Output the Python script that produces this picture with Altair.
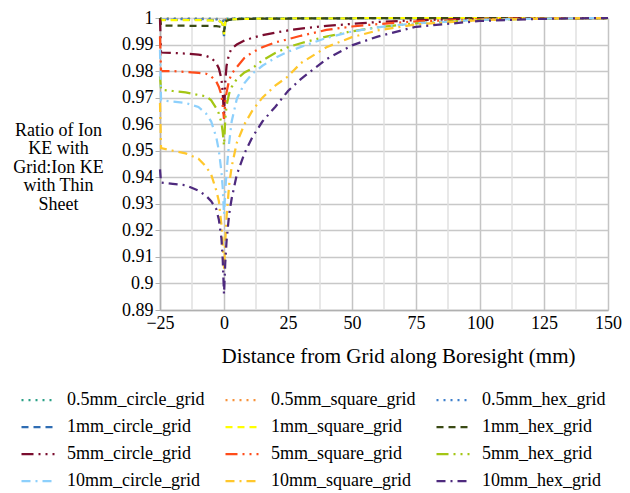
import altair as alt
import pandas as pd

# Shared x positions (mm)
x_mm = [-25, -24.6, -20, -15, -10, -7, -5, -3, -2, -1, -0.5, 0, 0.5, 1, 2, 3, 5, 8, 11, 15,
        20, 25, 30, 40, 50, 60, 75, 100, 125, 150]

names = ["0.5mm_circle_grid", "0.5mm_square_grid", "0.5mm_hex_grid",
         "1mm_circle_grid", "1mm_square_grid", "1mm_hex_grid",
         "5mm_circle_grid", "5mm_square_grid", "5mm_hex_grid",
         "10mm_circle_grid", "10mm_square_grid", "10mm_hex_grid"]

c05_circle = [1.0, 0.9998, 0.9998, 0.9998, 0.9998, 0.9998, 0.9998, 0.9997, 0.9997, 0.9996, 0.9994, 0.9985,
              0.9995, 0.9997, 0.9998, 0.9998, 0.9999, 0.9999, 0.9999, 0.9999, 0.9999, 1.0, 1.0, 1.0, 1.0,
              1.0, 1.0, 1.0, 1.0, 1.0]
c05_square = [1.0, 0.9997, 0.9997, 0.9997, 0.9997, 0.9997, 0.9996, 0.9996, 0.9995, 0.9994, 0.9991, 0.9980,
              0.9993, 0.9996, 0.9997, 0.9998, 0.9998, 0.9998, 0.9999, 0.9999, 0.9999, 0.9999, 1.0, 1.0, 1.0,
              1.0, 1.0, 1.0, 1.0, 1.0]
c05_hex = [1.0, 0.9996, 0.9996, 0.9996, 0.9996, 0.9996, 0.9996, 0.9995, 0.9994, 0.9993, 0.9990, 0.9978,
           0.9992, 0.9995, 0.9997, 0.9997, 0.9998, 0.9998, 0.9998, 0.9999, 0.9999, 0.9999, 1.0, 1.0, 1.0,
           1.0, 1.0, 1.0, 1.0, 1.0]
c1_circle = [1.0, 0.9993, 0.9993, 0.9993, 0.9993, 0.9992, 0.9992, 0.9991, 0.9990, 0.9985, 0.9975, 0.9932,
             0.9982, 0.9989, 0.9993, 0.9995, 0.9996, 0.9997, 0.9997, 0.9998, 0.9998, 0.9998, 0.9999, 0.9999,
             0.9999, 1.0, 1.0, 1.0, 1.0, 1.0]
c1_square = [1.0, 0.9992, 0.9992, 0.9992, 0.9992, 0.9991, 0.9991, 0.9990, 0.9989, 0.9984, 0.9976, 0.9938,
             0.9983, 0.9990, 0.9993, 0.9995, 0.9996, 0.9997, 0.9997, 0.9998, 0.9998, 0.9998, 0.9999, 0.9999,
             0.9999, 1.0, 1.0, 1.0, 1.0, 1.0]
c1_hex = [1.0, 0.9972, 0.9971, 0.9971, 0.9970, 0.9970, 0.9970, 0.9969, 0.9968, 0.9966, 0.9962, 0.9948,
          0.9985, 0.9990, 0.9993, 0.9995, 0.9996, 0.9997, 0.9997, 0.9998, 0.9998, 0.9998, 0.9999, 0.9999,
          0.9999, 1.0, 1.0, 1.0, 1.0, 1.0]
c5_circle = [0.9995, 0.9870, 0.9868, 0.9866, 0.9862, 0.9857, 0.9850, 0.9830, 0.9810, 0.9770, 0.9720, 0.9630,
             0.9760, 0.9820, 0.9865, 0.9885, 0.9900, 0.9915, 0.9925, 0.9935, 0.9945, 0.9953, 0.9960, 0.9970,
             0.9978, 0.9985, 0.9992, 0.9997, 0.9999, 1.0]
c5_square = [0.9930, 0.9800, 0.9800, 0.9797, 0.9793, 0.9790, 0.9780, 0.9760, 0.9740, 0.9710, 0.9670, 0.9620,
             0.9680, 0.9720, 0.9765, 0.9790, 0.9815, 0.9850, 0.9870, 0.9890, 0.9908, 0.9920, 0.9933, 0.9955,
             0.9968, 0.9977, 0.9987, 0.9995, 0.9999, 1.0]
c5_hex = [0.9780, 0.9730, 0.9725, 0.9720, 0.9710, 0.9705, 0.9690, 0.9660, 0.9640, 0.9605, 0.9570, 0.9520,
          0.9620, 0.9670, 0.9715, 0.9740, 0.9770, 0.9795, 0.9810, 0.9840, 0.9868, 0.9890, 0.9905, 0.9930,
          0.9950, 0.9965, 0.9980, 0.9993, 0.9998, 1.0]
c10_circle = [0.9880, 0.9690, 0.9685, 0.9680, 0.9665, 0.9640, 0.9610, 0.9550, 0.9500, 0.9420, 0.9360, 0.9260,
              0.9350, 0.9420, 0.9530, 0.9610, 0.9695, 0.9755, 0.9790, 0.9820, 0.9850, 0.9873, 0.9891, 0.9925,
              0.9949, 0.9965, 0.9980, 0.9993, 0.9998, 1.0]
c10_square = [0.9680, 0.9510, 0.9500, 0.9490, 0.9470, 0.9440, 0.9410, 0.9350, 0.9310, 0.9220, 0.9150, 0.9050,
              0.9160, 0.9250, 0.9370, 0.9440, 0.9530, 0.9600, 0.9650, 0.9700, 0.9745, 0.9780, 0.9830, 0.9890,
              0.9928, 0.9953, 0.9976, 0.9992, 0.9998, 1.0]
c10_hex = [0.9430, 0.9380, 0.9375, 0.9370, 0.9350, 0.9330, 0.9310, 0.9280, 0.9240, 0.9170, 0.9090, 0.8960,
           0.9080, 0.9160, 0.9260, 0.9320, 0.9410, 0.9490, 0.9550, 0.9610, 0.9665, 0.9725, 0.9770, 0.9845,
           0.9897, 0.9930, 0.9967, 0.9989, 0.9997, 1.0]

series_values = [c05_circle, c05_square, c05_hex, c1_circle, c1_square, c1_hex,
                 c5_circle, c5_square, c5_hex, c10_circle, c10_square, c10_hex]

colors = ["#2AA086", "#F7923A", "#3C7FCC", "#2F6DB3", "#FFFF00", "#3A4A14",
          "#7A0C2E", "#FF4C1A", "#A4C614", "#8DD0FC", "#FFC72C", "#4E2A7E"]
dashes = [[2, 5], [2, 5], [2, 5], [7, 5], [7, 5], [7, 5],
          [12, 5, 2, 5, 2, 5], [12, 5, 2, 5, 2, 5], [12, 5, 2, 5, 2, 5],
          [9, 5, 2, 5], [9, 5, 2, 5], [9, 5, 2, 5]]

x_ticks = [-25, 0, 25, 50, 75, 100, 125, 150]
x_minor = [-12.5, 12.5, 37.5, 62.5, 87.5, 112.5, 137.5]
y_ticks = [0.89, 0.90, 0.91, 0.92, 0.93, 0.94, 0.95, 0.96, 0.97, 0.98, 0.99, 1.0]

rows = []
for name, vals in zip(names, series_values):
    for xv, yv in zip(x_mm, vals):
        rows.append({"series": name, "x": xv, "y": yv})
df = pd.DataFrame(rows)

# legend fills column by column: order entries so rows read across
order = [0, 3, 6, 9, 1, 4, 7, 10, 2, 5, 8, 11]
leg_domain = [names[i] for i in order]
leg_colors = [colors[i] for i in order]
leg_dashes = [dashes[i] for i in order]

FONT = "Liberation Serif"

x_scale = alt.Scale(domain=[-25, 150], nice=False, zero=False)
y_scale = alt.Scale(domain=[0.89, 1.0], nice=False, zero=False)

x_axis = alt.Axis(values=x_ticks, title="Distance from Grid along Boresight (mm)",
                  grid=True, gridColor="#C4C4C4", gridWidth=1.5,
                  domainColor="#B0B0B0", domainWidth=1.5, ticks=False,
                  labelFont=FONT, labelFontSize=18, labelColor="#000000",
                  labelPadding=4, titleFont=FONT, titleFontSize=21,
                  titleFontWeight="normal", titleColor="#000000",
                  titlePadding=13, titleX=238, labelFlush=False)

minor = alt.Chart(pd.DataFrame({"x": x_minor})).mark_rule(
    color="#E0E0E0", strokeWidth=1.5
).encode(x=alt.X("x:Q", scale=x_scale, axis=x_axis))

legend = alt.Legend(
    title=None, orient="none", legendX=-140, legendY=364, columns=3,
    columnPadding=16, rowPadding=-11, symbolType="stroke", symbolSize=1089,
    symbolStrokeWidth=2.25, labelFont=FONT, labelFontSize=18, labelOffset=11,
    labelLimit=300, padding=0, gridAlign="each", labelColor="#000000",
)

lines = alt.Chart(df).mark_line(strokeWidth=2.25, strokeCap="butt").encode(
    x=alt.X("x:Q", scale=x_scale, axis=x_axis),
    y=alt.Y("y:Q", scale=y_scale,
            axis=alt.Axis(values=y_ticks, format=".2~f",
                          title=["Ratio of Ion", "KE with", "Grid:Ion KE", "with Thin", "Sheet"],
                          grid=True, gridColor="#C8C8C8", gridWidth=1.5,
                          domainColor="#B0B0B0", domainWidth=1.5, tickColor="#B0B0B0",
                          tickSize=5, labelFont=FONT, labelFontSize=18, labelColor="#000000",
                          labelPadding=2, titleFont=FONT, titleFontSize=18,
                          titleFontWeight="normal", titleColor="#000000", titleAngle=0,
                          titleAlign="center", titleBaseline="middle", titleX=-102,
                          titleY=112, titleLineHeight=18.5, labelFlush=False)),
    color=alt.Color("series:N", scale=alt.Scale(domain=leg_domain, range=leg_colors), legend=legend),
    strokeDash=alt.StrokeDash("series:N", scale=alt.Scale(domain=leg_domain, range=leg_dashes), legend=legend),
    detail="series:N",
)

chart = alt.layer(minor, lines).properties(
    width=448, height=292,
    padding={"left": 152, "top": 10, "right": 14, "bottom": 184},
    autosize=alt.AutoSizeParams(type="none"),
).configure_view(stroke=None)

chart.save("out.html", embed_options={"renderer": "svg", "actions": False})
